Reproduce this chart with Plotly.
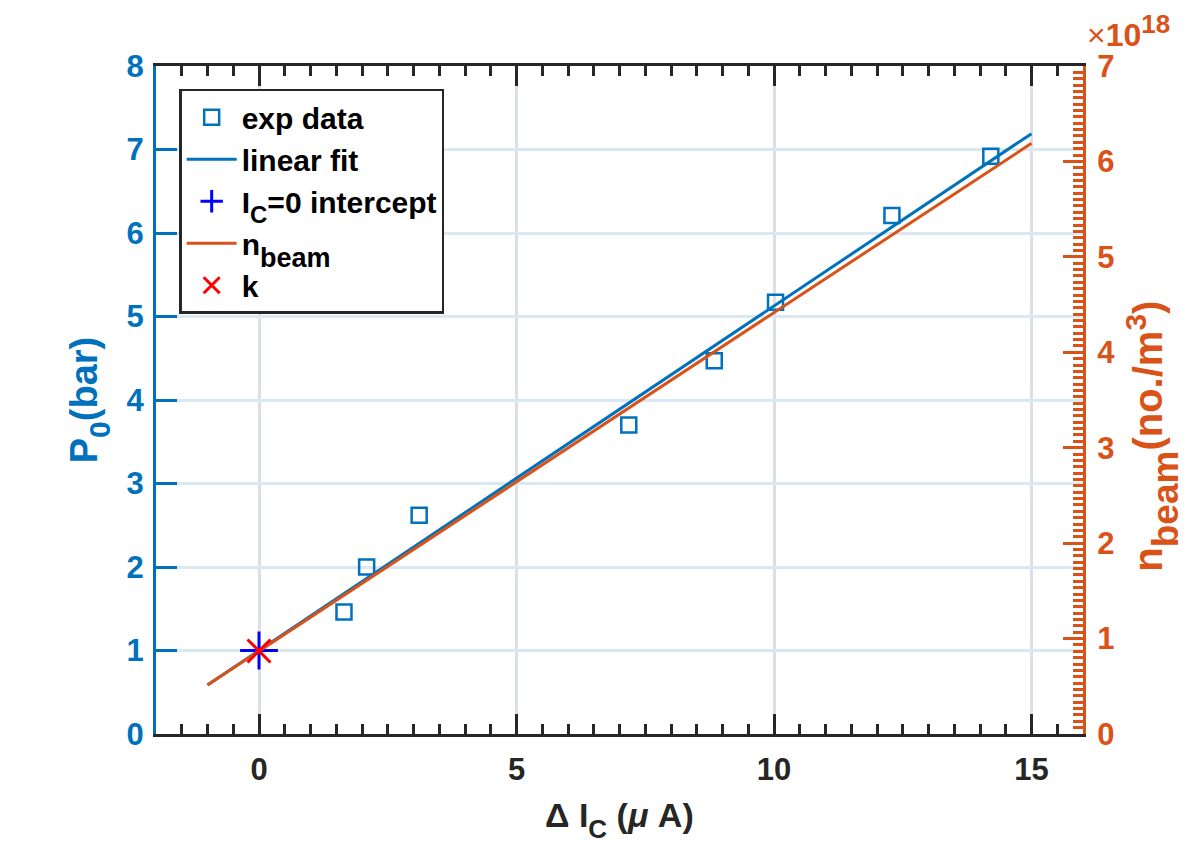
import plotly.graph_objects as go

# measured points
delta_ic = [1.65, 2.09, 3.11, 7.18, 8.84, 10.03, 12.29, 14.21]
p0 = [1.46, 2.00, 2.62, 3.70, 4.47, 5.17, 6.21, 6.92]

# fit lines (end points)
fit_x = [-1, 15]
fit_p0 = [0.587, 7.19]
nbeam_x = [-1, 15]
nbeam = [0.514e18, 6.19e18]

# intercept and k
icept_x = [0]
icept_p0 = [1.0]
k_x = [0]
k_nbeam = [0.87e18]

nbeam_ticks = [0, 1e18, 2e18, 3e18, 4e18, 5e18, 6e18, 7e18]
nbeam_labels = ['0', '1', '2', '3', '4', '5', '6', '7']

BLUE = '#0072BD'
ORANGE = '#D95319'
DARK = '#262626'
FONT = 'Liberation Sans'
TICK = 31


def sub(txt, size, shift):
    # bigger, lower subscript like the MATLAB tex output
    return f'<sub><span style="font-size:{size}px;baseline-shift:-{shift}px">{txt}</span></sub>'


fig = go.Figure()
fig.add_trace(go.Scatter(x=delta_ic, y=p0, mode='markers', name='exp data',
                         marker=dict(symbol='square-open', size=15, color=BLUE, line=dict(width=2.5))))
fig.add_trace(go.Scatter(x=fit_x, y=fit_p0, mode='lines', name='linear fit',
                         line=dict(color=BLUE, width=3)))
fig.add_trace(go.Scatter(x=icept_x, y=icept_p0, mode='markers', name='I' + sub('C', 24, 4) + '=0 intercept',
                         marker=dict(symbol='cross-thin-open', size=27, color='#0000FF', line=dict(width=3, color='#0000FF'))))
fig.add_trace(go.Scatter(x=nbeam_x, y=nbeam, mode='lines', name='n' + sub('beam', 27, 6),
                         yaxis='y2', line=dict(color=ORANGE, width=3)))
fig.add_trace(go.Scatter(x=k_x, y=k_nbeam, mode='markers', name='k', yaxis='y2',
                         marker=dict(symbol='x-thin-open', size=23, color='#FF0000', line=dict(width=3, color='#FF0000'))))

fig.update_layout(
    width=1196, height=854,
    margin=dict(l=148, r=121, t=58, b=128),
    plot_bgcolor='white', paper_bgcolor='white',
    font=dict(family=FONT, size=TICK, color=DARK, weight='bold'),
    showlegend=True,
    xaxis=dict(
        range=[-2, 16], dtick=5, tick0=0,
        ticks='inside', ticklen=20, tickwidth=3, tickcolor=DARK,
        minor=dict(dtick=0.5, ticks='inside', ticklen=10, tickwidth=3, tickcolor=DARK, showgrid=False),
        showline=True, linecolor=DARK, linewidth=3, mirror='ticks',
        showgrid=True, gridcolor='rgb(220,224,230)', gridwidth=3,
        zeroline=False, ticklabelstandoff=6,
        tickfont=dict(size=TICK, color=DARK, weight='bold'),
    ),
    yaxis=dict(
        range=[0, 8], dtick=1,
        ticks='inside', ticklen=21, tickwidth=3, tickcolor=BLUE,
        showline=True, linecolor=BLUE, linewidth=3, mirror=False,
        showgrid=True, gridcolor='rgb(218,232,244)', gridwidth=3,
        zeroline=False, ticklabelstandoff=3,
        tickfont=dict(size=TICK, color=BLUE, weight='bold'),
    ),
    yaxis2=dict(
        overlaying='y', side='right', range=[0, 7e18],
        tickvals=nbeam_ticks, ticktext=nbeam_labels,
        ticks='inside', ticklen=20, tickwidth=3, tickcolor=ORANGE,
        minor=dict(dtick=1e18 / 15, ticks='inside', ticklen=10, tickwidth=3, tickcolor=ORANGE, showgrid=False),
        showline=True, linecolor=ORANGE, linewidth=3,
        showgrid=False, zeroline=False, ticklabelstandoff=5,
        tickfont=dict(size=TICK, color=ORANGE, weight='bold'),
    ),
    legend=dict(
        x=0.025, y=0.966, xanchor='left', yanchor='top',
        bgcolor='white', bordercolor=DARK, borderwidth=2.5,
        font=dict(size=30, color='black', weight='bold'),
        tracegroupgap=0, itemwidth=50,
    ),
    annotations=[
        dict(text='<span style="font-weight:normal">×</span>10<sup><span style="font-size:26px">18</span></sup>',
             xref='paper', yref='paper', x=1.0, y=1.0, xanchor='left', yanchor='bottom',
             xshift=2, yshift=11, showarrow=False,
             font=dict(size=32, color=ORANGE, weight='bold')),
        dict(text='Δ&nbsp;I' + sub('C', 26, 4) + ' (<i>μ</i>&nbsp;A)',
             xref='paper', yref='paper', x=0.5, y=0, xanchor='center', yanchor='top',
             yshift=-60, showarrow=False,
             font=dict(size=34, color=DARK, weight='bold')),
        dict(text='P' + sub('0', 30, 5) + '(bar)',
             xref='paper', yref='paper', x=-0.072, y=0.5, xanchor='center', yanchor='middle',
             textangle=-90, showarrow=False,
             font=dict(size=38, color=BLUE, weight='bold')),
        dict(text='n' + sub('beam', 37, 7) + '(no./m<sup><span style="font-size:30px">3</span></sup>)',
             xref='paper', yref='paper', x=1.074, y=0.446, xanchor='center', yanchor='middle',
             textangle=-90, showarrow=False,
             font=dict(size=40, color=ORANGE, weight='bold')),
    ],
)

fig.write_html('out.html')
